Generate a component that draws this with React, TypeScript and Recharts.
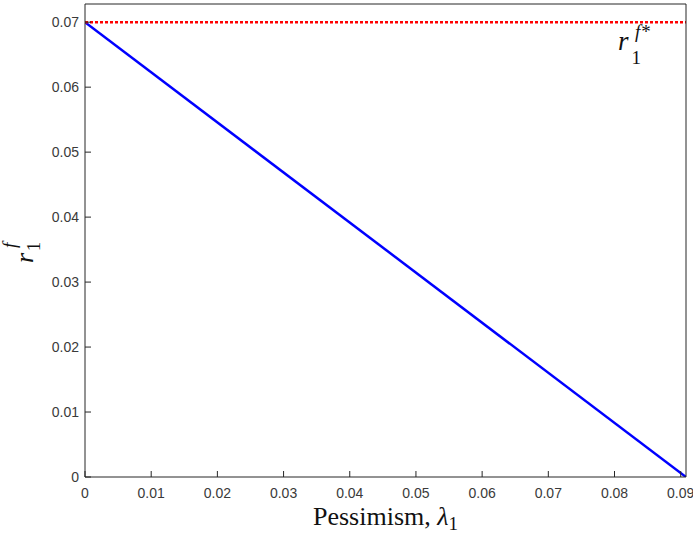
import { LineChart, Line, XAxis, YAxis } from "recharts";

const lambdaVals = [0, 0.0908];
const rfVals = [0.07, 0];
const rfStarVals = [0.07, 0.07];
const xTicks = [0, 0.01, 0.02, 0.03, 0.04, 0.05, 0.06, 0.07, 0.08, 0.09];
const yTicks = [0, 0.01, 0.02, 0.03, 0.04, 0.05, 0.06, 0.07];

const data = lambdaVals.map((l, i) => ({ lambda: l, rf: rfVals[i], rfStar: rfStarVals[i] }));

const X_MAX = 0.0908;
const Y_MAX = 0.0728;
const INK = "#262626";
const SERIF = "'Liberation Serif', 'Times New Roman', serif";

const fmt = (v: number) => (v === 0 ? "0" : v.toFixed(2));

const tickStyle = { fontSize: 14, fontFamily: "'Liberation Sans', Arial, sans-serif", fill: "#3a3a3a" };

function XLabel({ viewBox }: any) {
  const cx = viewBox.x + viewBox.width / 2;
  return (
    <text x={cx} y={525} textAnchor="middle" fontFamily={SERIF} fontSize={26} fill="#111">
      Pessimism,{" "}
      <tspan fontStyle="italic">λ</tspan>
      <tspan fontSize={19} dy={5}>1</tspan>
    </text>
  );
}

function YLabel() {
  const x = 33;
  const y = 263;
  return (
    <text
      x={x}
      y={y}
      transform={`rotate(-90 ${x} ${y})`}
      fontFamily={SERIF}
      fontSize={26}
      fill="#111"
    >
      <tspan fontStyle="italic">r</tspan>
      <tspan fontSize={18} dx={2} dy={7}>1</tspan>
      <tspan fontSize={19} fontStyle="italic" dx={-6} dy={-24}>f</tspan>
    </text>
  );
}

function StarLabel() {
  return (
    <text x={618} y={50} fontFamily={SERIF} fontSize={27} fill="#111">
      <tspan fontStyle="italic">r</tspan>
      <tspan fontSize={19} dx={3} dy={14}>1</tspan>
      <tspan fontSize={19} fontStyle="italic" dx={-6} dy={-26}>f</tspan>
      <tspan fontSize={19} dx={1}>*</tspan>
    </text>
  );
}

export default function App() {
  return (
    <div style={{ position: "absolute", left: 0, top: 0, width: 693, height: 535, background: "#fff" }}>
      <LineChart width={693} height={535} data={data} margin={{ top: 3, right: 6, bottom: 0, left: 0 }}>
        <XAxis
          dataKey="lambda"
          type="number"
          domain={[0, X_MAX]}
          ticks={xTicks}
          tickFormatter={fmt}
          height={58}
          tickSize={-6}
          tickMargin={17}
          tick={tickStyle}
          stroke={INK}
          axisLine={{ stroke: INK }}
          tickLine={{ stroke: INK }}
          allowDataOverflow
          label={<XLabel />}
        />
        <XAxis
          xAxisId="top"
          orientation="top"
          type="number"
          domain={[0, X_MAX]}
          ticks={xTicks}
          height={1}
          tickSize={-6}
          tick={false}
          stroke={INK}
          allowDataOverflow
          label={<StarLabel />}
        />
        <YAxis
          type="number"
          domain={[0, Y_MAX]}
          ticks={yTicks}
          tickFormatter={fmt}
          width={85}
          tickSize={-6}
          tickMargin={12}
          tick={tickStyle}
          stroke={INK}
          allowDataOverflow
          label={<YLabel />}
        />
        <YAxis
          yAxisId="right"
          orientation="right"
          type="number"
          domain={[0, Y_MAX]}
          ticks={yTicks}
          width={1}
          tickSize={-6}
          tick={false}
          stroke={INK}
          allowDataOverflow
        />
        <Line
          dataKey="rf"
          stroke="#0000ff"
          strokeWidth={2.5}
          dot={false}
          isAnimationActive={false}
        />
        <Line
          dataKey="rfStar"
          stroke="#ff0000"
          strokeWidth={2.5}
          strokeDasharray="3 2"
          dot={false}
          isAnimationActive={false}
        />
      </LineChart>
    </div>
  );
}
